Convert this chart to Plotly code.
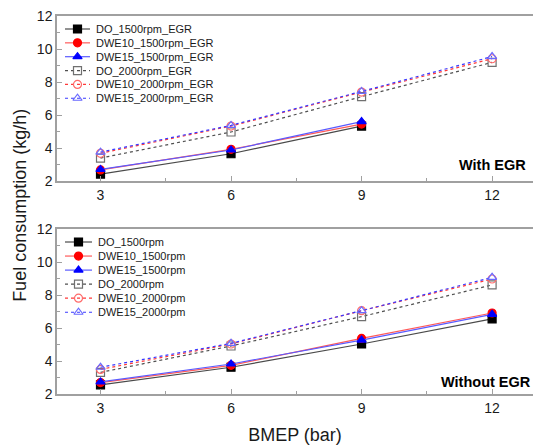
import plotly.graph_objects as go
from plotly.subplots import make_subplots

# BMEP operating points (bar)
bmep_egr_1500 = [3, 6, 9]
bmep = [3, 6, 9, 12]

# Fuel consumption (kg/h) with EGR
do_1500_egr = [2.42, 3.65, 5.33]
dwe10_1500_egr = [2.67, 3.92, 5.45]
dwe15_1500_egr = [2.70, 3.88, 5.60]
do_2000_egr = [3.39, 4.97, 7.11, 9.19]
dwe10_2000_egr = [3.68, 5.33, 7.39, 9.41]
dwe15_2000_egr = [3.75, 5.37, 7.43, 9.54]

# Fuel consumption (kg/h) without EGR
do_1500 = [2.55, 3.62, 5.03, 6.55]
dwe10_1500 = [2.69, 3.74, 5.37, 6.91]
dwe15_1500 = [2.73, 3.82, 5.27, 6.83]
do_2000 = [3.31, 4.91, 6.69, 8.61]
dwe10_2000 = [3.49, 5.03, 7.05, 8.97]
dwe15_2000 = [3.62, 5.07, 7.05, 9.07]

x_ticks = [3, 6, 9, 12]
y_ticks = [2, 4, 6, 8, 10, 12]

FONT = "Liberation Sans, Arial, sans-serif"
TEXT = "#1a1a1a"
AXIS = "#a0a0a0"

W, H = 533, 448
M_L, M_R, M_T, M_B = 57, 0, 16, 54
PANEL_H = 165  # px height of each panel
TOP_DOMAIN = [0.5635, 1.0]
BOT_DOMAIN = [0.0, 0.4365]

fig = make_subplots(rows=2, cols=1, vertical_spacing=0.127)

# (marker colour, line colour, symbol, dash)
styles = [
    ("#000000", "#4a4a4a", "square", "solid"),
    ("#ff0000", "#ff5a5a", "circle", "solid"),
    ("#0000ff", "#5a5aff", "triangle-up", "solid"),
    ("#707070", "#505050", "square-open", "dot"),
    ("#ff6a6a", "#ff3a3a", "circle-open", "dot"),
    ("#6a6aff", "#3a3aff", "triangle-up-open", "dot"),
]

top_series = [
    ("DO_1500rpm_EGR", bmep_egr_1500, do_1500_egr),
    ("DWE10_1500rpm_EGR", bmep_egr_1500, dwe10_1500_egr),
    ("DWE15_1500rpm_EGR", bmep_egr_1500, dwe15_1500_egr),
    ("DO_2000rpm_EGR", bmep, do_2000_egr),
    ("DWE10_2000rpm_EGR", bmep, dwe10_2000_egr),
    ("DWE15_2000rpm_EGR", bmep, dwe15_2000_egr),
]
bottom_series = [
    ("DO_1500rpm", bmep, do_1500),
    ("DWE10_1500rpm", bmep, dwe10_1500),
    ("DWE15_1500rpm", bmep, dwe15_1500),
    ("DO_2000rpm", bmep, do_2000),
    ("DWE10_2000rpm", bmep, dwe10_2000),
    ("DWE15_2000rpm", bmep, dwe15_2000),
]

for row, series in [(1, top_series), (2, bottom_series)]:
    for (name, xs, ys), (mcol, lcol, sym, dash) in zip(series, styles):
        fig.add_trace(
            go.Scatter(
                x=xs, y=ys, name=name, mode="lines+markers",
                line=dict(color=lcol, width=1.2, dash=dash),
                marker=dict(symbol=sym, size=8, color=mcol,
                            line=dict(color=mcol, width=1.2)),
                showlegend=False,
            ),
            row=row, col=1,
        )

axis_common = dict(
    showline=True, linecolor=AXIS, linewidth=1.5,
    ticks="inside", ticklen=5, tickcolor=AXIS, tickwidth=1.2,
    showgrid=False, zeroline=False,
    tickfont=dict(family=FONT, size=14, color=TEXT),
)

for r in (1, 2):
    fig.update_xaxes(
        range=[2.0, 12.94], tickvals=x_ticks, mirror=True,
        minor=dict(ticks="inside", ticklen=3, tickcolor=AXIS,
                   tickvals=[4.5, 7.5, 10.5]),
        **axis_common, row=r, col=1,
    )
    fig.update_yaxes(
        range=[2, 12], tickvals=y_ticks,
        minor=dict(ticks="inside", ticklen=3, tickcolor=AXIS,
                   tickvals=[3, 5, 7, 9, 11]),
        **axis_common, row=r, col=1,
    )

fig.update_xaxes(title=dict(text="BMEP (bar)", font=dict(family=FONT, size=18, color=TEXT),
                            standoff=14), row=2, col=1)

# Compact in-panel legends, laid out on pixel-scaled overlay axes
plot_w = W - M_L - M_R
hidden = dict(visible=False, showgrid=False, zeroline=False, fixedrange=True)
fig.update_layout(
    xaxis3=dict(domain=[0, 1], range=[0, plot_w], overlaying="x", anchor="y3", **hidden),
    yaxis3=dict(domain=TOP_DOMAIN, range=[PANEL_H, 0], overlaying="y", anchor="x3", **hidden),
    xaxis4=dict(domain=[0, 1], range=[0, plot_w], overlaying="x2", anchor="y4", **hidden),
    yaxis4=dict(domain=BOT_DOMAIN, range=[PANEL_H, 0], overlaying="y2", anchor="x4", **hidden),
)

annotations = []
legend_layout = [
    ("x3", "y3", top_series, 13.0, 13.85, 37),
    ("x4", "y4", bottom_series, 13.0, 14.05, 39),
]
for xa, ya, series, y0, step, text_x in legend_layout:
    for i, ((name, _, _), (mcol, lcol, sym, dash)) in enumerate(zip(series, styles)):
        yy = y0 + step * i
        key_end = text_x - 4
        fig.add_trace(go.Scatter(
            x=[8, key_end], y=[yy, yy], xaxis=xa, yaxis=ya, mode="lines",
            line=dict(color=lcol, width=1.2, dash=dash),
            showlegend=False, hoverinfo="skip",
        ))
        fig.add_trace(go.Scatter(
            x=[(8 + key_end) / 2], y=[yy], xaxis=xa, yaxis=ya, mode="markers",
            marker=dict(symbol=sym, size=8, color=mcol, line=dict(color=mcol, width=1.2)),
            showlegend=False, hoverinfo="skip",
        ))
        annotations.append(dict(
            text=name, xref=xa, yref=ya, x=text_x, y=yy, xanchor="left",
            yanchor="middle", showarrow=False,
            font=dict(family=FONT, size=11, color=TEXT),
        ))

annotations += [
    dict(text="Fuel consumption (kg/h)", xref="paper", yref="paper",
         x=-0.078, y=0.5, textangle=-90, showarrow=False,
         xanchor="center", yanchor="middle",
         font=dict(family=FONT, size=18, color=TEXT)),
    dict(text="<b>With EGR</b>", xref="x", yref="y", x=12.0, y=3.0,
         showarrow=False, font=dict(family=FONT, size=14.5, color="#000000")),
    dict(text="<b>Without EGR</b>", xref="x2", yref="y2", x=11.85, y=2.75,
         showarrow=False, font=dict(family=FONT, size=14.5, color="#000000")),
]

fig.update_layout(
    width=W, height=H,
    margin=dict(l=M_L, r=M_R, t=M_T, b=M_B),
    paper_bgcolor="white", plot_bgcolor="white",
    showlegend=False,
    font=dict(family=FONT),
    annotations=annotations,
)

fig.write_html("out.html")
